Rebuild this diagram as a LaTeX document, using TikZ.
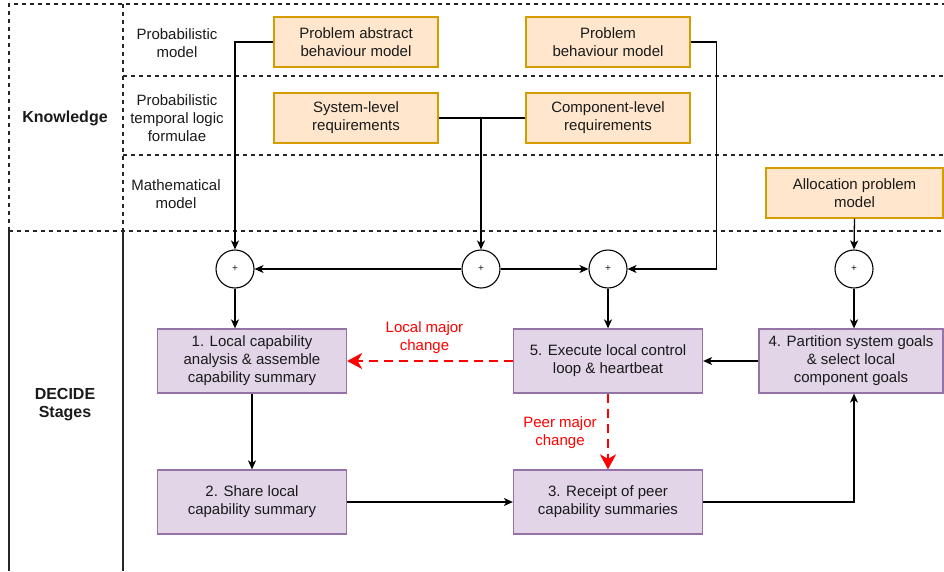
\documentclass[tikz,border=0pt]{standalone}
\usepackage{fontspec}
\setmainfont{Liberation Sans}
\usetikzlibrary{arrows.meta}
\definecolor{kfill}{HTML}{FFE6CC}
\definecolor{kdraw}{HTML}{D79B00}
\definecolor{sfill}{HTML}{E1D5E7}
\definecolor{sdraw}{HTML}{9673A6}
\definecolor{txt}{HTML}{1A1A1A}
\begin{document}
\begin{tikzpicture}[x=1pt,y=-1pt,
  every node/.style={font=\fontsize{15}{18}\selectfont, text=txt, align=center},
  kbox/.style={draw=kdraw, fill=kfill, line width=1.25pt, minimum width=164pt, minimum height=50pt, inner sep=2pt},
  sbox/.style={draw=sdraw, fill=sfill, line width=1.25pt, minimum width=189pt, minimum height=64pt, inner sep=2pt},
  sum/.style={draw, circle, line width=1.1pt, minimum size=38pt, inner sep=0pt, fill=white, font=\fontsize{10}{12}\selectfont},
  lane/.style={draw=black!85, line width=1.1pt, dash pattern=on 4pt off 4pt},
  frame/.style={draw=black!85, line width=1.1pt},
  arr/.style={draw=black, line width=1.3pt, -{Stealth[length=9pt,width=8pt,inset=2.5pt]}},
  redarr/.style={draw=red, line width=2.5pt, dash pattern=on 9pt off 6pt, -{Stealth[length=15pt,width=16pt,inset=4.5pt]}},
  head/.style={font=\bfseries\fontsize{16}{18}\selectfont},
  redlabel/.style={text=red}]
  \useasboundingbox (0,0) rectangle (944,571);

  % swimlane frame
  \path[lane] (9,231) -- (9,4) -- (944,4);
  \path[lane] (123,4) -- (123,231);
  \path[lane] (123,76) -- (944,76);
  \path[lane] (123,155) -- (944,155);
  \path[lane] (9,231) -- (944,231);
  \path[frame] (9,231) -- (9,571);
  \path[frame] (123,231) -- (123,571);

  % lane headings
  \node[head] (know) at (65,118) {Knowledge};
  \node[head] (decide) at (65,405) {DECIDE\\Stages};
  \node (l1) at (177,43) {Probabilistic\\model};
  \node (l2) at (177,118) {Probabilistic\\temporal logic\\formulae};
  \node (l3) at (176,194) {Mathematical\\model};

  % knowledge artefacts
  \node[kbox] (pabm) at (356,42) {Problem abstract\\behaviour model};
  \node[kbox] (pbm) at (608,42) {Problem\\behaviour model};
  \node[kbox] (slr) at (356,118) {System-level\\requirements};
  \node[kbox] (clr) at (608,118) {Component-level\\requirements};
  \node[kbox, minimum width=177pt] (apm) at (854.5,193) {Allocation problem\\model};

  % junctions
  \node[sum] (c1) at (235,269) {+};
  \node[sum] (c2) at (481,269) {+};
  \node[sum] (c3) at (608,269) {+};
  \node[sum] (c4) at (854,269) {+};

  % DECIDE stages
  \node[sbox] (b1) at (252,361) {1. Local capability\\analysis \& assemble\\capability summary};
  \node[sbox] (b5) at (608,361) {5. Execute local control\\loop \& heartbeat};
  \node[sbox, minimum width=184pt] (b4) at (851,361) {4. Partition system goals\\\& select local\\component goals};
  \node[sbox] (b2) at (252,502) {2. Share local\\capability summary};
  \node[sbox] (b3) at (608,502) {3. Receipt of peer\\capability summaries};

  % knowledge feeds
  \draw[arr] (pabm.west) -| (c1.north);
  \draw[arr] (pbm.east) -- ++(26,0) |- (c3.east);
  \draw[line width=1.3pt] (slr.east) -- (clr.west);
  \draw[arr] (clr.west) -| (c2.north);
  \draw[arr] (apm.south) -- (c4.north);
  \draw[arr] (c2.west) -- (c1.east);
  \draw[arr] (c2.east) -- (c3.west);

  % stage flow
  \draw[arr] (c1.south) -- (c1.south |- b1.north);
  \draw[arr] (c3.south) -- (b5.north);
  \draw[arr] (c4.south) -- (c4.south |- b4.north);
  \draw[arr] (b4.west) -- (b5.east);
  \draw[arr] (b1.south) -- (b2.north);
  \draw[arr] (b2.east) -- (b3.west);
  \draw[arr] (b3.east) -| (c4.south |- b4.south);

  % change triggers
  \draw[redarr] (b5.west) -- (b1.east);
  \draw[redarr] (b5.south) -- (b3.north);
  \node[redlabel] (lmc) at (424.5,338) {Local major\\change};
  \node[redlabel] (pmc) at (560,433) {Peer major\\change};
\end{tikzpicture}
\end{document}
